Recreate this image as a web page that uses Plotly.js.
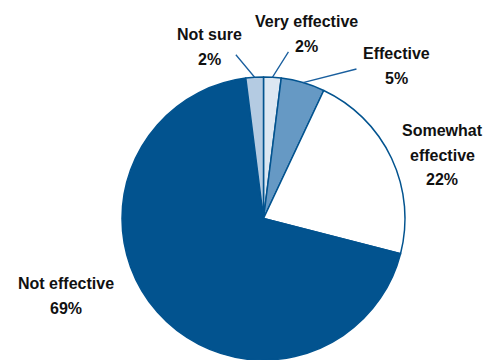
<!DOCTYPE html>
<html>
<head>
<meta charset="utf-8">
<script src="https://cdn.plot.ly/plotly-3.0.1.min.js"></script>
<style>html,body{margin:0;padding:0;background:#fff;}#chart{width:487px;height:360px;}</style>
</head>
<body>
<div id="chart"></div>
<script>
// Data
const labels = ['Very effective', 'Effective', 'Somewhat effective', 'Not effective', 'Not sure'];
const values = [2, 5, 22, 69, 2];
const colors = ['#dce7f2', '#6699c4', '#ffffff', '#02538f', '#b4cbe2'];

const W = 487, H = 360;
// pie domain (paper)
const dom = {x: [122 / W, 405 / W], y: [0, 1 - 77 / H]};
const cx = (dom.x[0] + dom.x[1]) / 2 * W;
const cy = H - (dom.y[0] + dom.y[1]) / 2 * H;
const R = Math.min((dom.x[1] - dom.x[0]) * W, (dom.y[1] - dom.y[0]) * H) / 2;

const total = values.reduce((a, b) => a + b, 0);
// mid angle of each slice (deg, clockwise from 12 o'clock)
const mids = [];
let acc = 0;
values.forEach(v => { mids.push((acc + v / 2) / total * 360); acc += v; });
function edgePoint(i) {
  const a = mids[i] * Math.PI / 180;
  return [cx + R * Math.sin(a), cy - R * Math.cos(a)];
}

// label block centers (pixels) and leader line offsets
const labelPos = {
  'Very effective': [306, 34],
  'Effective': [396, 66],
  'Somewhat effective': [442, 155],
  'Not effective': [66, 296],
  'Not sure': [209, 47]
};
const leaders = {
  'Very effective': [17, -27],
  'Effective': [55, -14],
  'Not sure': [-20, -24]
};
const lineGap = 24.5;

const font = {family: '"Liberation Sans", Arial, sans-serif', size: 16, color: '#111111'};
const annotations = [];
labels.forEach((lab, i) => {
  const lines = (lab === 'Somewhat effective' ? ['Somewhat', 'effective'] : [lab]).concat([values[i] + '%']);
  const p = labelPos[lab];
  lines.forEach((t, k) => {
    const y = p[1] + (k - (lines.length - 1) / 2) * lineGap;
    annotations.push({
      xref: 'paper', yref: 'paper', x: p[0] / W, y: 1 - y / H,
      xanchor: 'center', yanchor: 'middle', showarrow: false,
      text: '<b>' + t + '</b>', font: font, align: 'center'
    });
  });
  if (leaders[lab]) {
    const e = edgePoint(i);
    annotations.push({
      xref: 'paper', yref: 'paper', x: e[0] / W, y: 1 - e[1] / H,
      ax: leaders[lab][0], ay: leaders[lab][1], axref: 'pixel', ayref: 'pixel',
      text: '', showarrow: true, arrowhead: 0, arrowwidth: 1.3, arrowcolor: '#1a5f9e',
      standoff: 0, startstandoff: 0
    });
  }
});

const trace = {
  type: 'pie', labels: labels, values: values, sort: false,
  direction: 'clockwise', rotation: 0, textinfo: 'none', hoverinfo: 'label+percent',
  marker: {colors: colors, line: {color: '#02538f', width: 1.5}},
  domain: dom, showlegend: false
};

Plotly.newPlot('chart', [trace], {
  width: W, height: H, margin: {l: 0, r: 0, t: 0, b: 0},
  paper_bgcolor: '#ffffff', plot_bgcolor: '#ffffff', showlegend: false,
  annotations: annotations
}, {staticPlot: true, displayModeBar: false});
</script>
</body>
</html>
